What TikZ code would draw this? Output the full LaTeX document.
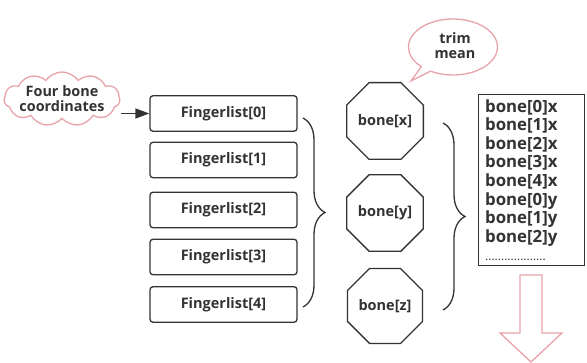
\documentclass[tikz,border=0pt]{standalone}
\usepackage{fontspec}
\setmainfont{Open Sans}
\usetikzlibrary{shapes.geometric,shapes.symbols,shapes.callouts,decorations.pathreplacing,arrows.meta}
\definecolor{ink}{HTML}{333333}
\definecolor{pinkline}{HTML}{E8A3AA}
\tikzset{
  fbox/.style={draw=ink, line width=1.3pt, rounded corners=3pt, minimum width=147pt, minimum height=35.5pt, inner sep=0pt, text=ink, font=\fontsize{14.5}{16}\selectfont\bfseries},
  octo/.style={draw=ink, line width=1.3pt, regular polygon, regular polygon sides=8, minimum size=81pt, inner sep=0pt, text=ink, font=\fontsize{14.5}{16}\selectfont\bfseries},
  bracestyle/.style={draw=ink, line width=1.3pt, decorate, decoration={brace, amplitude=22pt, aspect=0.5}},
  pinkshape/.style={draw=pinkline, line width=1.3pt, fill=white, text=ink},
  labeltext/.style={text=ink, align=center, inner sep=0pt, font=\fontsize{14.4}{15}\selectfont\bfseries}
}
\begin{document}
\begin{tikzpicture}[x=1pt,y=-1pt]
\useasboundingbox (0,0) rectangle (587,363);
% cloud
\node[pinkshape, cloud, cloud puffs=11, cloud puff arc=110, aspect=2.2, minimum width=116pt, minimum height=54pt, inner sep=0pt] (cloud) at (62,99) {};
\node[labeltext] (cloudtext) at (cloud.center) {Four bone\\coordinates};
% fingerlists
\node[fbox] (f0) at (223.5,113.5) {Fingerlist[0]};
\node[fbox] (f1) at (223.5,160) {Fingerlist[1]};
\node[fbox] (f2) at (223.5,210) {Fingerlist[2]};
\node[fbox] (f3) at (223.5,257) {Fingerlist[3]};
\node[fbox] (f4) at (223.5,304.5) {Fingerlist[4]};
\draw[draw=ink, line width=1.4pt, -{Triangle[length=14pt,width=10pt]}] (cloud.east |- f0.west) -- (f0.west);
% brace 1
\draw[bracestyle] (303,118) -- (303,307);
% octagons
\node[octo] (bx) at (385,121) {bone[x]};
\node[octo] (by) at (385,213) {bone[y]};
\node[octo] (bz) at (385,306) {bone[z]};
% brace 2
\draw[bracestyle] (443,123) -- (443,310);
% callout
\node[pinkshape, ellipse callout, minimum width=89pt, minimum height=56pt, callout absolute pointer={(411,81)}, inner sep=0pt] (trim) at (453,47) {};
\node[labeltext] (trimtext) at (455,46) {trim\\mean};
% list
\node[draw=ink, line width=1.3pt, anchor=north west, minimum height=171pt, text width=93pt, inner xsep=6.5pt, align=left, text=ink, font=\fontsize{16.8}{18.6}\selectfont\bfseries] (list) at (478,94) {bone[0]x\\bone[1]x\\bone[2]x\\bone[3]x\\bone[4]x\\bone[0]y\\bone[1]y\\bone[2]y\\{\fontsize{12}{18.6}\selectfont\mdseries ...................}};
% down arrow
\draw[pinkshape] (520,275) -- (542,275) -- (542,333) -- (562,333) -- (531,362) -- (500,333) -- (520,333) -- cycle;
\end{tikzpicture}
\end{document}
